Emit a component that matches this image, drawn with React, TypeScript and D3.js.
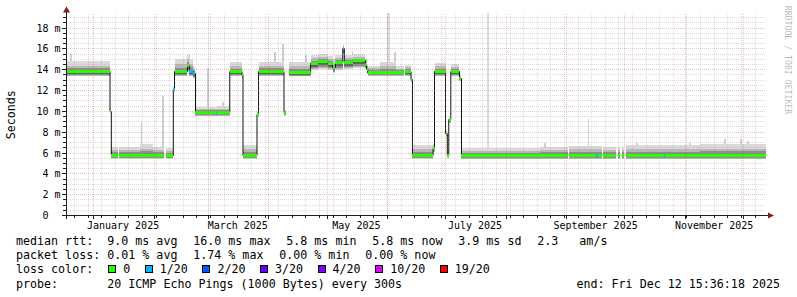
import React, { useEffect } from "react";
import * as d3 from "d3";

// ---------------- data ----------------
const END_TIME = "2025-12-12T15:36:18";
const SPAN_DAYS = 360;
const Y_TOP_MS = 19.35;

// median RTT steps: each step starts at stepStart[i] and lasts until the next one; null = no data
const stepStart = [
  "2024-12-17T12:00", "2025-01-09T07:00", "2025-01-09T23:00", "2025-01-13T09:00", "2025-01-13T22:00",
  "2025-01-24T17:00", "2025-01-31T10:00", "2025-02-06T01:00", "2025-02-07T02:00", "2025-02-10T20:00",
  "2025-02-11T11:00", "2025-02-18T03:00", "2025-02-19T01:00", "2025-02-21T03:00", "2025-02-22T06:00",
  "2025-03-04T19:00", "2025-03-05T13:00", "2025-03-11T21:00", "2025-03-18T01:30", "2025-03-18T16:00",
  "2025-03-25T21:00", "2025-03-26T16:00", "2025-04-08T18:30", "2025-04-09T13:00", "2025-04-11T08:00",
  "2025-04-22T10:00", "2025-04-26T06:00", "2025-05-01T10:00", "2025-05-03T17:00", "2025-05-05T06:00",
  "2025-05-09T00:00", "2025-05-09T19:00", "2025-05-14T06:00", "2025-05-20T16:00", "2025-05-21T07:00",
  "2025-05-21T21:00", "2025-05-28T02:00", "2025-06-05T10:00", "2025-06-09T11:30", "2025-06-10T06:00",
  "2025-06-13T02:00", "2025-06-13T20:00", "2025-06-24T10:00", "2025-06-25T04:00", "2025-06-30T20:00",
  "2025-07-01T18:00", "2025-07-02T12:00", "2025-07-03T13:00", "2025-07-08T00:30", "2025-07-09T01:00",
  "2025-08-18T10:00", "2025-09-01T16:00", "2025-09-02T12:00", "2025-09-16T09:00", "2025-09-17T04:00",
  "2025-09-19T04:00", "2025-09-19T23:30", "2025-09-26T12:00", "2025-09-27T09:00", "2025-09-28T13:40",
  "2025-09-29T10:30", "2025-09-30T15:00", "2025-10-01T12:00", "2025-10-21T02:30", "2025-10-21T21:00",
  "2025-11-08T17:00",
];
const stepMedian: (number | null)[] = [
  13.8, 10.0, 5.8, null, 5.8,
  5.8, 5.8, null, 5.8, 12.1,
  13.8, 14.4, 13.85, 13.6, 9.9,
  9.9, 9.9, 13.8, 13.5, 5.8,
  9.7, 13.8, 9.9, null, 13.7,
  14.6, 14.75, 14.55, 14.2, 14.65,
  16.0, 14.7, 14.85, 14.5, 14.0,
  13.75, 13.75, 13.75, null, 13.8,
  13.1, 5.8, 6.45, 13.8, 7.9,
  5.8, 9.2, 13.8, 13.2, 5.8,
  5.8, null, 5.8, 5.8, 5.8,
  null, 5.8, null, 5.8, null,
  5.8, null, 5.8, 5.8, 5.8,
  5.8,
];
// lost pings out of 20
const stepLoss = [
  0, 0, 0, 0, 0,
  0, 0, 0, 0, 1,
  0, 0, 1, 1, 0,
  1, 0, 0, 0, 0,
  0, 0, 0, 0, 0,
  0, 0, 0, 0, 0,
  1, 0, 0, 0, 0,
  0, 0, 0, 0, 0,
  0, 0, 0, 0, 0,
  0, 0, 0, 0, 0,
  0, 0, 0, 1, 0,
  0, 0, 0, 0, 0,
  0, 0, 0, 1, 0,
  0,
];
// fastest ping (bottom of the smoke), ms
const stepLow: (number | null)[] = [
  13.35, 9.8, 5.45, null, 5.45,
  5.45, 5.45, null, 5.45, 11.9,
  13.4, 13.9, 13.4, 13.2, 9.55,
  9.55, 9.55, 13.4, 13.2, 5.45,
  9.5, 13.4, 9.6, null, 13.35,
  14.0, 14.1, 14.0, 13.7, 14.0,
  15.5, 14.1, 14.2, 14.1, 13.6,
  13.4, 13.4, 13.4, null, 13.4,
  12.8, 5.45, 6.1, 13.4, 7.6,
  5.5, 8.9, 13.4, 12.9, 5.4,
  5.4, null, 5.4, 5.4, 5.4,
  null, 5.4, null, 5.4, null,
  5.4, null, 5.4, 5.4, 5.4,
  5.4,
];
// slowest usual ping (top of the smoke), ms
const stepHigh: (number | null)[] = [
  14.8, 10.3, 6.55, null, 6.6,
  6.85, 6.55, null, 6.5, 12.4,
  15.0, 15.4, 15.0, 14.4, 10.45,
  10.45, 10.5, 14.7, 13.9, 6.75,
  10.0, 14.75, 10.1, null, 14.75,
  15.4, 15.5, 15.3, 15.0, 15.4,
  16.5, 15.4, 15.5, 15.0, 14.5,
  14.4, 14.7, 14.35, null, 14.5,
  13.4, 6.75, 6.9, 14.65, 8.2,
  6.1, 9.5, 14.55, 13.5, 6.5,
  6.55, null, 6.7, 6.7, 6.7,
  null, 6.55, null, 6.6, null,
  6.6, null, 6.8, 6.8, 6.8,
  6.85,
];

// isolated slow pings (light smoke spikes)
const spikeAt = [
  "2024-12-20T05:00", "2025-01-25T11:30", "2025-02-05T13:00", "2025-02-19T04:00", "2025-02-28T16:00",
  "2025-03-08T10:00", "2025-04-04T03:00", "2025-04-08T06:00", "2025-04-20T02:00", "2025-05-14T00:00",
  "2025-06-01T12:00", "2025-06-04T20:00", "2025-07-22T17:00", "2025-08-20T23:30", "2025-09-12T08:00",
  "2025-10-07T07:00", "2025-11-03T14:00", "2025-11-21T14:00", "2025-11-29T19:00", "2025-12-03T10:00",
];
const spikeMs = [
  15.5, 9.0, 11.5, 15.5, 14.2,
  10.9, 15.7, 16.5, 15.4, 15.8,
  19.4, 15.7, 19.4, 7.0, 9.3,
  7.0, 7.0, 7.3, 7.3, 7.15,
];

const yTicks = [0, 2, 4, 6, 8, 10, 12, 14, 16, 18];
const yUnit = "m";
const axisTitle = "Seconds";
const watermark = "RRDTOOL / TOBI OETIKER";

const rowLabels = ["median rtt:", "packet loss:", "loss color:", "probe:"];
const rttStats = ["9.0 ms avg", "16.0 ms max", "5.8 ms min", "5.8 ms now", "3.9 ms sd", "2.3   am/s"];
const lossStats = ["0.01 % avg", "1.74 % max", "0.00 % min", "0.00 % now"];
const lossLevels = [0, 1, 2, 3, 4, 10, 19];
const lossLabels = ["0", "1/20", "2/20", "3/20", "4/20", "10/20", "19/20"];
const lossColors = ["#26ff00", "#00b8ff", "#0059ff", "#5e00ff", "#7e00ff", "#dd00ff", "#ff0000"];
const probeText = "20 ICMP Echo Pings (1000 Bytes) every 300s";
const endText = "end: Fri Dec 12 15:36:18 2025";

// ---------------- drawing ----------------
const FONT = "'DejaVu Sans Mono', monospace";
const CW = 7.02; // legend char advance
const PRE: React.CSSProperties = { whiteSpace: "pre" };

const snap = (v: number) => Math.floor(v) + 0.5;

export default function App() {
  useEffect(() => {
    document.body.style.margin = "0";
  }, []);

  const W = 797, H = 297;
  const L = 66, R = 766, T = 14, B = 215.5;

  const parse = d3.timeParse("%Y-%m-%dT%H:%M");
  const end = d3.timeParse("%Y-%m-%dT%H:%M:%S")(END_TIME) as Date;
  const start = d3.timeDay.offset(end, -SPAN_DAYS);
  const x = d3.scaleTime().domain([start, end]).range([L, R]);
  const y = d3.scaleLinear().domain([0, Y_TOP_MS]).range([B, T]);

  const steps = stepStart.map((s, i) => {
    const x0 = Math.max(L, x(parse(s) as Date));
    const x1 = i < stepStart.length - 1 ? x(parse(stepStart[i + 1]) as Date) : R;
    return { x0, x1, m: stepMedian[i], loss: stepLoss[i], lo: stepLow[i], hi: stepHigh[i] };
  });

  const lossColor = (loss: number) => {
    let idx = 0;
    lossLevels.forEach((lv, i) => {
      if (loss >= lv) idx = i;
    });
    return lossColors[idx];
  };

  const medianAt = (t: Date) => {
    const xv = x(t);
    const s = steps.find((st) => xv >= st.x0 && xv < st.x1);
    return s && s.m != null ? s.m : 5.8;
  };

  // median line points (step after)
  const pts: { x: number; v: number | null }[] = [];
  steps.forEach((s, i) => {
    pts.push({ x: s.x0, v: s.m });
    const next = steps[i + 1];
    if (s.m != null && (!next || next.m == null)) pts.push({ x: s.x1, v: s.m });
  });
  const medianPath = d3
    .line<{ x: number; v: number | null }>()
    .defined((p) => p.v != null)
    .x((p) => p.x)
    .y((p) => snap(y(p.v as number)))
    .curve(d3.curveStepAfter)(pts) as string;

  const smokeLayers = [
    { c: "#dadada", lo: 1.0, hi: 1.0 },
    { c: "#b8b8b8", lo: 0.92, hi: 0.6 },
    { c: "#8e8e8e", lo: 0.75, hi: 0.34 },
    { c: "#626262", lo: 0.5, hi: 0.14 },
  ];

  const weekLines = d3.timeSunday.range(start, end);
  const monthLines = d3.timeMonth.range(d3.timeMonth.ceil(start), end);
  const labelMonths = d3.timeMonth.every(2)!.range(d3.timeMonth.ceil(start), end);
  const monthFmt = d3.timeFormat("%B %Y");
  const minorY = d3.range(0.5, Y_TOP_MS, 0.5).filter((v) => v % 2 !== 0);
  const majorY = yTicks.filter((v) => v > 0);

  const rowY = [245, 259.2, 273.4, 287.6];
  const valueX = 16 + 13 * CW;

  const placeItems = (items: string[]) => {
    let cx = valueX;
    return items.map((t) => {
      const p = { t, x: cx };
      cx += t.length * CW + 15.8;
      return p;
    });
  };

  const swatches: { x: number; label: string; color: string }[] = [];
  {
    let cx = 108.3;
    lossLabels.forEach((lab, i) => {
      swatches.push({ x: cx, label: lab, color: lossColors[i] });
      cx += 15 + lab.length * CW + 14.5;
    });
  }

  const minorStroke = "rgba(150,150,150,0.32)";
  const majorStroke = "rgba(222,79,79,0.36)";

  return (
    <div style={{ position: "absolute", left: 0, top: 0 }}>
      <svg width={W} height={H} viewBox={`0 0 ${W} ${H}`} style={{ display: "block", background: "#ffffff" }}>
        <rect x={0} y={0} width={W} height={H} fill="#ffffff" />

        {/* spikes */}
        <g shapeRendering="crispEdges">
          {spikeAt.map((s, i) => {
            const t = parse(s) as Date;
            const top = y(spikeMs[i]);
            const base = y(medianAt(t));
            const w = spikeMs[i] > 19 ? 2.5 : 1.6;
            return (
              <rect
                key={i}
                x={x(t) - w / 2}
                y={top}
                width={w}
                height={Math.max(0, base - top)}
                fill={spikeMs[i] > 19 ? "#dcdcdc" : "#cfcfcf"}
              />
            );
          })}
        </g>

        {/* smoke */}
        <g shapeRendering="crispEdges">
          {steps.map((s, i) =>
            s.m == null || s.lo == null || s.hi == null
              ? null
              : smokeLayers.map((ly, j) => {
                  const m = s.m as number;
                  const a = m - ly.lo * (m - (s.lo as number));
                  const b = m + ly.hi * ((s.hi as number) - m);
                  return (
                    <rect
                      key={`${i}-${j}`}
                      x={s.x0}
                      width={Math.max(0.5, s.x1 - s.x0)}
                      y={y(b)}
                      height={y(a) - y(b)}
                      fill={ly.c}
                    />
                  );
                })
          )}
        </g>

        {/* median line */}
        <path d={medianPath} fill="none" stroke="#111111" strokeWidth={1} />

        {/* loss-coloured median band */}
        <g shapeRendering="crispEdges">
          {steps.map((s, i) =>
            s.m == null ? null : (
              <rect
                key={i}
                x={s.x0}
                width={Math.max(1, s.x1 - s.x0)}
                y={snap(y(s.m)) - 1.5}
                height={3}
                fill={lossColor(s.loss)}
              />
            )
          )}
        </g>

        {/* grid */}
        <g strokeWidth={1} strokeDasharray="1,1" fill="none">
          {minorY.map((v) => (
            <line key={`hy${v}`} x1={L} x2={R} y1={snap(y(v))} y2={snap(y(v))} stroke={minorStroke} />
          ))}
          {weekLines.map((d, i) => (
            <line key={`wx${i}`} x1={snap(x(d))} x2={snap(x(d))} y1={T} y2={B} stroke={minorStroke} />
          ))}
          {majorY.map((v) => (
            <line key={`my${v}`} x1={L} x2={R} y1={snap(y(v))} y2={snap(y(v))} stroke={majorStroke} />
          ))}
          {monthLines.map((d, i) => (
            <line key={`mx${i}`} x1={snap(x(d))} x2={snap(x(d))} y1={T} y2={B} stroke={majorStroke} />
          ))}
        </g>

        {/* axes */}
        <g stroke="#1f1f1f" strokeWidth={1} shapeRendering="crispEdges">
          <line x1={62} x2={770} y1={snap(B)} y2={snap(B)} />
          <line x1={snap(L)} x2={snap(L)} y1={219} y2={11} />
          {minorY.map((v) => (
            <line key={`ty${v}`} x1={63} x2={66} y1={snap(y(v))} y2={snap(y(v))} />
          ))}
          {majorY.map((v) => (
            <line key={`tmy${v}`} x1={62} x2={66} y1={snap(y(v))} y2={snap(y(v))} />
          ))}
          {weekLines.map((d, i) => (
            <line key={`tx${i}`} x1={snap(x(d))} x2={snap(x(d))} y1={216} y2={218} />
          ))}
          {monthLines.map((d, i) => (
            <line key={`tmx${i}`} x1={snap(x(d))} x2={snap(x(d))} y1={216} y2={219} />
          ))}
        </g>
        <polygon points={`${L - 3},12.5 ${L + 4},12.5 ${L + 0.5},6.5`} fill="#801f1f" />
        <polygon points={`768,212.5 768,218.5 774,215.5`} fill="#801f1f" />

        {/* y tick labels */}
        <g fontFamily={FONT} fontSize={10} fill="#000" textAnchor="end">
          {yTicks.map((v) => (
            <text key={v} x={60.5} y={y(v) + 3.6} style={PRE} xmlSpace="preserve">
              {v === 0 ? " 0  " : `${String(v).padStart(2, " ")} ${yUnit}`}
            </text>
          ))}
        </g>

        {/* x labels */}
        <g fontFamily={FONT} fontSize={10} fill="#000" textAnchor="middle">
          {labelMonths.map((d, i) => (
            <text key={i} x={x(d3.timeDay.offset(d, 15))} y={229}>
              {monthFmt(d)}
            </text>
          ))}
        </g>

        {/* axis title */}
        <text
          transform={`translate(14.5,${(T + B) / 2}) rotate(-90)`}
          textAnchor="middle"
          fontFamily={FONT}
          fontSize={11.67}
          fill="#000"
        >
          {axisTitle}
        </text>

        {/* watermark */}
        <text
          transform={`translate(785,60) rotate(90)`}
          textAnchor="middle"
          fontFamily={FONT}
          fontSize={8.2}
          fill="rgba(0,0,0,0.3)"
        >
          {watermark}
        </text>

        {/* legend */}
        <g fontFamily={FONT} fontSize={11.67} fill="#000">
          {rowLabels.map((lab, i) => (
            <text key={lab} x={16} y={rowY[i]} style={PRE} xmlSpace="preserve">
              {lab}
            </text>
          ))}
          {placeItems(rttStats).map((p, i) => (
            <text key={`r${i}`} x={p.x} y={rowY[0]} style={PRE} xmlSpace="preserve">
              {p.t}
            </text>
          ))}
          {placeItems(lossStats).map((p, i) => (
            <text key={`l${i}`} x={p.x} y={rowY[1]} style={PRE} xmlSpace="preserve">
              {p.t}
            </text>
          ))}
          {swatches.map((s, i) => (
            <g key={`s${i}`}>
              <rect
                x={Math.round(s.x) + 0.5}
                y={265.5}
                width={7}
                height={7}
                fill={s.color}
                stroke="#000"
                strokeWidth={1}
              />
              <text x={s.x + 15} y={rowY[2]} style={PRE}>
                {s.label}
              </text>
            </g>
          ))}
          <text x={valueX} y={rowY[3]} style={PRE} xmlSpace="preserve">
            {probeText}
          </text>
          <text x={780} y={rowY[3]} textAnchor="end" style={PRE} xmlSpace="preserve">
            {endText}
          </text>
        </g>
      </svg>
    </div>
  );
}
